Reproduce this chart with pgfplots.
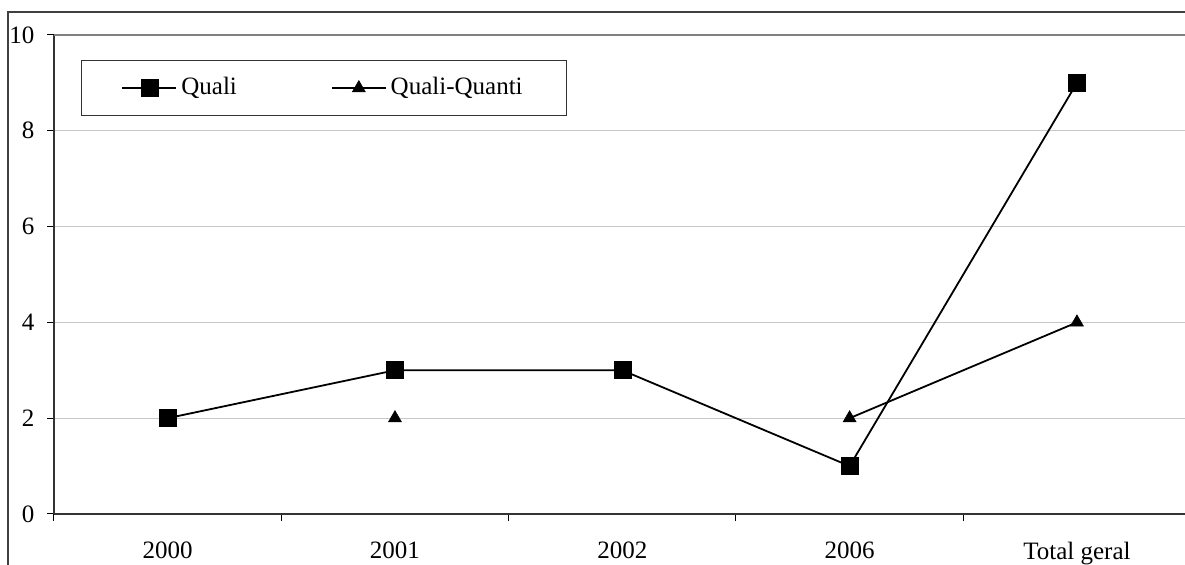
\documentclass[border=0pt]{standalone}
\usepackage{fontspec}
\setmainfont{Liberation Serif}
\usepackage{pgfplots}
\pgfplotsset{compat=1.18}
\begin{document}
\fontsize{12.5}{14}\selectfont
\begin{tikzpicture}
\begin{axis}[
 at={(0,0)}, anchor=south west, scale only axis,
 width=568.3pt, height=239.5pt,
 xmin=-0.5, xmax=4.5, ymin=0, ymax=10,
 xtick={0,1,2,3,4}, xticklabels={2000,2001,2002,2006,Total geral},
 major x tick style={draw=none},
 minor xtick={-0.5,0.5,1.5,2.5,3.5},
 ytick={0,2,4,6,8,10},
 tick align=outside, major tick length=3.5pt, minor tick length=3.5pt,
 axis x line*=bottom, axis y line*=left,
 ymajorgrids, grid style={black!22, line width=0.5pt},
 tick style={black, line width=0.5pt},
 axis line style={black!80, line width=0.9pt},
 /pgf/number format/assume math mode=true,
 tick label style={font=\fontsize{12.5}{14}\selectfont},
 xticklabel style={yshift=-6pt},
 yticklabel style={xshift=-2pt},
 unbounded coords=jump,
 legend columns=2,
 legend style={at={(rel axis cs:0,1)}, anchor=north west, xshift=13.5pt, yshift=-12.5pt,
   draw=black!80, line width=0.6pt, inner xsep=20pt, inner ysep=6.5pt,
   font=\fontsize{12.5}{14}\selectfont,
   /tikz/every even column/.append style={column sep=45pt}},
 legend image code/.code={\draw[mark repeat=2,mark phase=2] plot coordinates {(0pt,0pt) (13.5pt,0pt) (27pt,0pt)};},
]
\draw[black!50, line width=1pt] (axis cs:-0.5,10) -- (axis cs:4.5,10);
\addplot[black, line width=0.9pt, mark=square*, mark size=4.25pt, mark options={solid, line width=0.3pt}]
 coordinates {(0,2) (1,3) (2,3) (3,1) (4,9)};
\addlegendentry{Quali}
\addplot[black, line width=0.9pt, mark=triangle*, mark size=3.75pt, mark options={solid, line width=0.3pt}]
 coordinates {(0,nan) (1,2) (2,nan) (3,2) (4,4)};
\addlegendentry{Quali-Quanti}
\end{axis}
\draw[black!75, line width=0.8pt] (-23pt,-40pt) -- (-23pt,251pt) -- (580pt,251pt);
\pgfresetboundingbox
\useasboundingbox (-27pt,-25.5pt) rectangle (565.5pt,257pt);
\end{tikzpicture}
\end{document}
